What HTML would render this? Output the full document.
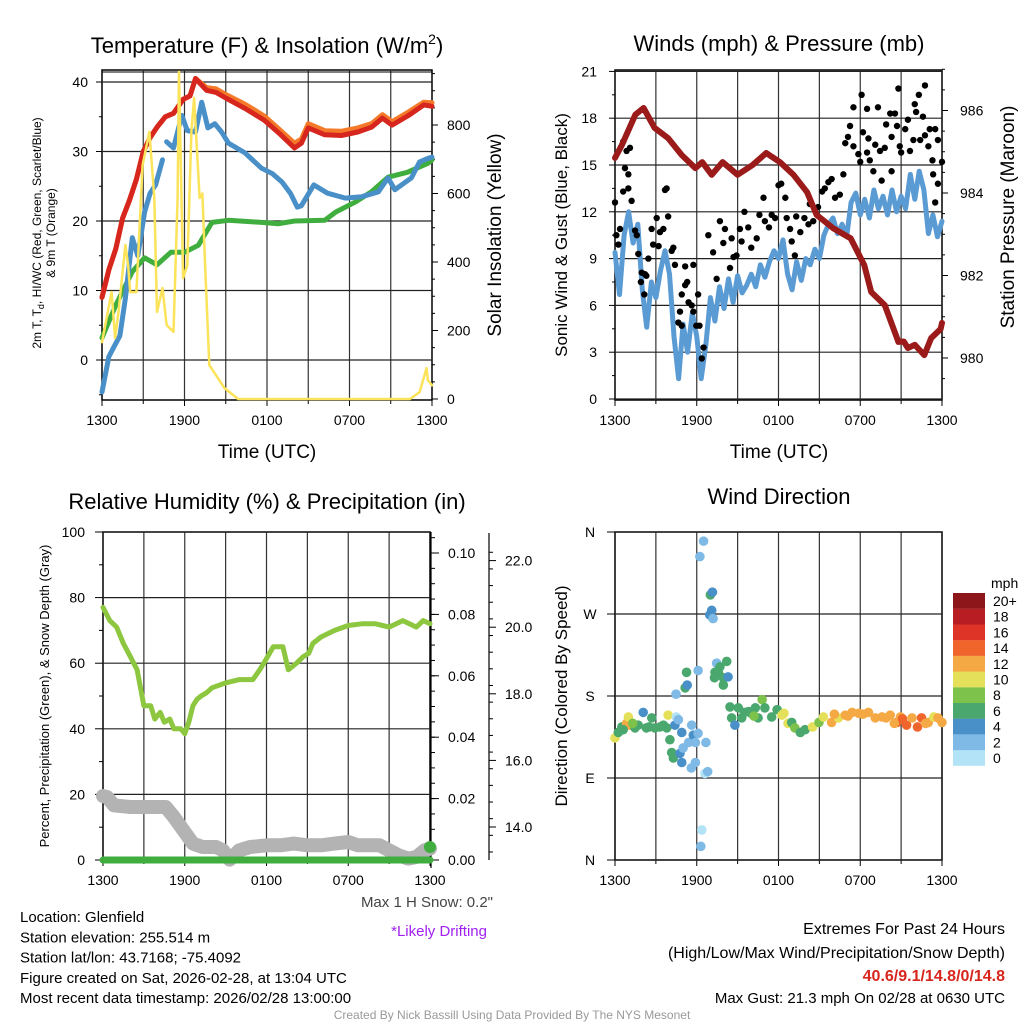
<!DOCTYPE html>
<html><head><meta charset="utf-8"><style>
html,body{margin:0;padding:0;background:#fff;}
svg{display:block;font-family:"Liberation Sans",sans-serif;}
</style></head><body>
<svg id="c" width="1024" height="1024" viewBox="0 0 1024 1024">
<rect x="0" y="0" width="1024" height="1024" fill="#fff"/>
</svg>
<script>
// ---------- DATA ----------
const hourTicks = ["1300","1900","0100","0700","1300"];
// Temperature panel
const tempHours = [0,0.5,1,1.5,2,2.5,3,3.5,4,4.6,5.2,5.9,6.4,6.8,7.6,8.3,9,10.4,11.8,13,14,14.5,15,16.2,17.4,18.6,19.6,20.4,21.1,22.3,23.4,24];
const tempVals  = [9,13,16,20.4,23,26,30,32,33.5,35,35.5,37.5,38,40.5,38.8,38.5,37.7,36.2,34.5,32.4,30.5,31.2,33.4,32.4,32.3,32.8,33.5,34.8,33.8,35.2,36.7,36.5];
const temp9Vals = [9,13,16,20.4,23,26,30,32,33.5,35,35.5,37.5,38,40.5,39.2,39,38.2,36.8,35.1,33,31.2,31.8,34,33,32.9,33.4,34,35.3,34.3,35.7,37.1,37];
const wcHours = [0,0.5,0.95,1.3,1.7,2.2,2.6,3.1,3.5,3.9,4.4,4.45,4.7,5.2,5.8,6.2,6.8,7.25,7.7,8.2,8.7,9.2,10.4,11.6,12.4,13.1,13.7,14.2,14.5,15.4,16.4,17.7,18.9,20.1,20.8,21.3,22.5,23.1,23.7,24];
const wcVals  = [-4.6,0.5,2.2,3.5,8.9,17.6,15,21.3,24,25.2,28.8,null,31.4,30.5,35.2,33,32.8,37.1,33.4,34,32.8,31.2,29.8,27.6,26.8,25.6,24,22,22.2,25.2,24,23.3,23.5,24.2,26.2,24.5,26.2,28.5,29,29.2];
const dewHours = [0,1,2.2,3.1,4,5,6,7,8,9.2,11.6,12.8,14,16.2,17,18.4,19.6,20.8,22.2,23.7,24];
const dewVals  = [3.2,7.9,12.7,14.7,13.7,15.5,15.5,16.5,19.8,20.1,19.8,19.6,20,20.1,21.3,22.7,24.2,26.3,27,28.3,28.8];
const solHours = [0,0.7,0.95,1.2,1.7,1.9,2.05,2.5,2.95,3.45,3.8,4.0,4.4,4.7,5.2,5.5,5.6,5.9,6.2,6.5,6.7,7.1,7.3,7.5,7.8,8.9,9.9,22.4,23.1,23.6,23.7,24];
const solVals  = [166,312,178,254,450,391,312,312,683,780,587,254,324,216,196,587,955,353,391,780,879,587,600,391,99,32,0,0,20,90,55,40];
// Winds panel
const windHours = [0,0.33,0.67,1,1.33,1.67,2,2.33,2.67,3,3.33,3.67,4,4.33,4.67,5,5.33,5.67,6,6.33,6.67,7,7.33,7.67,8,8.33,8.67,9,9.33,9.67,10,10.33,10.67,11,11.33,11.67,12,12.33,12.67,13,13.33,13.67,14,14.33,14.67,15,15.33,15.67,16,16.33,16.67,17,17.33,17.67,18,18.33,18.67,19,19.33,19.67,20,20.33,20.67,21,21.33,21.67,22,22.33,22.67,23,23.33,23.67,24];
const windVals  = [9.4,6.7,10.5,12,10,11.2,7,4.6,7.5,6.5,8.2,9.5,8,4,1.3,4.8,3,5.5,4,1.3,3.5,6.5,5,7.2,5.8,7.7,6.2,7.9,6.8,7.3,8,7.2,8.6,7.8,8.8,9.5,9,10.2,8,7,8.8,7.6,9,8.6,9.6,9,10.5,11.2,11.6,10.6,11.2,10.4,12.6,13.2,11.8,12.8,11.6,13.4,12.2,13,11.8,13.4,12,13,12.2,14.4,12.8,14.6,13.4,10.6,11.8,10.4,11.4];
const gustHours = [0,0.1,0.37,0.6,0.85,1.1,0.73,0.98,1.22,0.6,0.98,0.25,1.47,1.6,1.71,1.96,2.2,2.3,1.9,2.15,2.45,2.69,2.8,3.06,3.3,3.55,3.67,3.79,3.9,3.2,4.16,4.28,4.4,5.15,5.75,5.15,5.3,4.9,5.4,4.77,5.63,4.65,4.9,5.75,6.1,5.97,6.2,6.5,6.37,6.85,7.2,7.46,7.7,7.95,8.07,8.56,8.44,8.7,8.92,9.17,9.29,9.5,9.78,10,10.4,10.6,10.9,11,11.3,11.5,11.75,12,12.2,12.5,12.6,12.85,12.97,13.2,13.3,13.6,13.9,14.2,14.3,14.55,14.9,15.2,15.4,15.66,15.9,16.15,16.5,16.76,16.9,17.1,17.25,17.5,17.5,17.86,18,18.2,18.1,18.5,18.6,18.5,18.7,18.96,19.1,19.3,19.45,19.57,19.8,19.9,20.2,20.3,20.55,20.7,20.3,20.8,20.9,21,21.3,21.5,21.65,21.9,22,22.1,22.3,22.6,22.4,22.75,23,23.1,23.5,23.3,23.7,22.75,23.35,23.7,23.5,24];
const gustVals  = [12.6,10.5,10.9,16.5,15.9,16.1,14.8,14.4,12.7,13.3,13.5,9.9,10.8,10.5,9.3,8.1,8,7.9,7.5,6.7,9,10.9,9.9,11.6,10.7,10.9,13.4,13.5,11.7,9.8,9.5,9.7,8.6,8.5,8.6,7.3,7.5,6.7,6.2,5.6,6,4.9,4.7,5.6,6.7,4.7,4.7,3.3,2.6,10.5,9.4,7.7,11.4,10,10.9,10.3,8.4,9.1,9.2,10.9,10.1,12,11,9.7,10.3,11.8,12.9,11.4,11,11.8,11.6,13.7,13.8,12.9,11.6,10.9,10.1,9.2,11.7,10.7,11.6,11.2,12.5,11.4,12.3,13.3,13.5,13.9,14.1,12.9,13.1,14.4,16.4,16.8,17.5,18.7,16.2,15.7,15.2,17.1,19.5,18.6,16.7,15.8,15.3,14.6,16.3,18.7,15.9,14,16.1,17.6,18.3,16.8,18.3,17.5,14.6,19.9,16.2,15.8,17.3,17.9,15.9,16.6,18.9,18.4,19.5,18.1,16.6,16.9,16.2,17.3,17.3,15.3,16.6,20.1,14.4,13.8,12.6,15.2];
const presHours = [0,0.5,1.5,2.1,2.9,3.9,4.9,5.9,6.4,7.1,7.9,9,10.1,11.1,12.1,13.1,14.1,14.8,16,17.3,18.3,18.8,19.8,20.8,21.2,21.5,22,22.7,23.2,23.9,24];
const presVals  = [984.85,985.16,985.9,986.06,985.58,985.33,984.92,984.6,984.75,984.44,984.75,984.44,984.68,984.97,984.75,984.44,984.02,983.47,983.15,982.9,982.25,981.6,981.28,980.39,980.4,980.24,980.32,980.07,980.48,980.7,980.85];
// RH panel
const rhHours = [0,0.5,1,1.5,2,2.5,3,3.5,3.8,4.2,4.5,4.9,5.2,5.7,6,6.3,6.6,6.9,7.2,7.6,8,9,10,11,11.5,11.8,12.5,13.2,13.6,14.2,14.7,15.1,15.4,16,17,18,19,20,21,22,23,23.5,24];
const rhVals  = [77,73,71,66,62,58,47,47,43,45,42,43,40,40,38.5,42,47,49,50,51,52.5,54,55,55,58,60,65,65,58,60,62,63,66,68,70,71.5,72,72,71,73,71,73,72];
const snowHours = [0,0.3,0.8,2,3,4,4.6,5.2,5.9,6.6,7.3,8.3,8.8,9.3,10,10.8,12,13,14,15,16,17,18,18.7,19.5,20.3,21,21.7,22.4,23,23.6,24];
const snowVals  = [14.93,14.9,14.65,14.6,14.6,14.6,14.6,14.3,13.9,13.5,13.4,13.4,13.3,13.02,13.3,13.4,13.45,13.45,13.5,13.45,13.45,13.5,13.55,13.45,13.45,13.45,13.3,13.15,13.05,13.1,13.3,13.35];
const precipHours = [0,24];
const precipVals  = [0,0];
// Wind direction panel
const dirHours = [0,0.24,0.5,0.85,1.1,0.98,1.47,1.7,2.07,2.3,2.7,2.93,3.3,3.55,3.8,3.9,4.03,4.16,4.28,4.4,4.5,4.65,4.48,4.77,4.9,4.9,5,5.15,5.3,5.25,5.4,5.6,5.63,5.75,5.9,5.9,6.1,6.1,6.23,6.5,6.37,6.3,6.6,6.8,6.67,7,7.15,7.1,6.95,7.2,7.46,7.34,7.7,7.6,7.3,7.95,7.95,8.2,8.3,8.44,8.56,8.8,9.05,9.3,9.5,10,10.3,10.5,10.8,11,11.5,11.9,12.25,12.4,12.7,12.97,13.2,13.6,13.95,14.5,14.97,15.3,15.9,16.4,16.9,17.4,17.9,18.6,19.1,19.6,20.2,20.7,20.95,21.4,21.8,22.2,22.5,23,23.4,23.7,24,0.6,1.3,2.5,9.8,10.2,16.1,17.1,18.2,19.9,20.5,21.1,22.8];
const dirVals  = [134,140,146,150,148,157,145,148,162,145,156,145,146,148,145,159,132,118,112,148,157,154,182,117,107,140,123,189,192,206,129,101,148,137,129,107,139,208,333,350,33,15,95,97,129,291,294,274,269,265,216,206,212,205,200,200,192,218,201,168,156,148,167,156,162,161,167,156,176,167,157,165,159,161,150,151,145,140,143,146,151,157,151,156,159,162,161,162,156,157,159,151,157,148,156,146,156,151,157,156,151,143,150,146,163,158,160,158,160,156,150,155,150];
const dirSpeeds = [10,7,7,12,12,10,7,6,5,6,7,6,6,7,7,10,6,7,6,4,1,2,3,4,4,4,2,6,4,6,2,3,3,5,3,3,2,3,3,2,1,2,1,3,3,7,4,4,4,2,2,6,6,6,6,6,6,6,4,6,6,4,7,6,6,6,7,7,8,6,6,6,10,10,10,6,8,6,7,10,8,10,13,10,12,12,12,13,12,12,12,14,12,14,13,14,14,12,10,12,13,7,8,7,6,8,12,12,13,12,13,14,12];
const speedBinLabels = ["0","2","4","6","8","10","12","14","16","18","20+"];
const speedColors = ["#b3e3f7","#7ebae5","#4a90c8","#4aa86e","#7dc24b","#e5e05a","#f5a945","#f0652c","#dd3427","#b81d24","#8c1619"];

// ---------- HELPERS ----------
const svg = document.getElementById('c');
const NS = 'http://www.w3.org/2000/svg';
function mk(tag, attrs, parent){ const e=document.createElementNS(NS,tag); for(const k in attrs) e.setAttribute(k,attrs[k]); (parent||svg).appendChild(e); return e; }
function txt(s, x, y, size, anchor, extra){ const a=Object.assign({x:x,y:y,'font-size':size,'text-anchor':anchor||'middle',fill:'#000'},extra||{}); const e=mk('text',a); e.textContent=s; return e; }
function lin(x1,y1,x2,y2,col,w){ return mk('line',{x1:x1,y1:y1,x2:x2,y2:y2,stroke:col||'#000','stroke-width':w||1}); }
function pathFrom(xs, ys, fx, fy){ let d='',pen=false; for(let i=0;i<xs.length;i++){ if(ys[i]===null){pen=false;continue;} d+=(pen?'L':'M')+fx(xs[i]).toFixed(1)+','+fy(ys[i]).toFixed(1); pen=true;} return d; }

function panel(X0,X1,Y0,Y1,name){
  const g=mk('rect',{x:X0,y:Y0,width:X1-X0,height:Y1-Y0,fill:'none',stroke:'#000','stroke-width':1.5});
  
  
  const fx=h=>X0+(X1-X0)*h/24;
  for(let h=3;h<24;h+=3){ const l=lin(fx(h),Y0,fx(h),Y1,'#333',1.2);
    
     }
  for(let i=0;i<5;i++){ const h=i*6; lin(fx(h),Y1,fx(h),Y1+6,'#000',1);
    const t=txt(hourTicks[i],fx(h),Y1+25,14);
    
     }
  for(let h=3;h<24;h+=6) lin(fx(h),Y1,fx(h),Y1+4,'#000',1);
  return fx;
}
function hgrid(X0,X1,y,name){ const l=lin(X0,y,X1,y,'#222',1.2);
  
   }
function series(xs,ys,fx,fy,col,w,name){
  const p=mk('path',{d:pathFrom(xs,ys,fx,fy),fill:'none',stroke:col,'stroke-width':w,'stroke-linejoin':'round','stroke-linecap':'round'});
  
  
  return p;
}

// ---------- PANEL 1: Temperature ----------
{
  const X0=102,X1=432,Y0=70,Y1=400;
  const fy=t=>360-t*6.95, fyR=w=>399-w*0.3425;
  const fx=panel(X0,X1,Y0,Y1,'temp');
  for(let t=0;t<=40;t+=10){ hgrid(X0,X1,fy(t),'temp'); lin(X0-6,fy(t),X0,fy(t));
    const l=txt(String(t),X0-14,fy(t)+5,14,'end');
    
     }
  for(let t=-5;t<=40;t+=5) lin(X0-3,fy(t),X0,fy(t));
  for(let w=0;w<=800;w+=200){ lin(X1,fyR(w),X1+6,fyR(w));
    const l=txt(String(w),X1+15,fyR(w)+5,14,'start');
    
     }
  for(let w=0;w<=950;w+=50) lin(X1,fyR(w),X1+3,fyR(w));
  lin(X0,72,X1,72,'#000',1);
  series(dewHours,dewVals,fx,fy,'#3fae3f',5,'dewpoint-line');
  series(wcHours,wcVals,fx,fy,'#4a90c8',5,'windchill-line');
  series(tempHours,temp9Vals,fx,fy,'#f47a2a',5,'temp-9m-line');
  series(tempHours,tempVals,fx,fy,'#d7261e',5,'temp-2m-line');
  series(solHours,solVals,fx,fyR,'#fbe35a',2.5,'insolation-line');
  let t=mk('text',{x:267,y:53,'font-size':22,'text-anchor':'middle'});
  t.innerHTML='Temperature (F) &amp; Insolation (W/m<tspan dy="-9" font-size="14">2</tspan><tspan dy="9">)</tspan>';
  
  
  t=txt('Time (UTC)',267,458,19);  
  t=mk('text',{x:0,y:0,'font-size':12,'text-anchor':'middle',transform:'translate(41,233) rotate(-90)'});
  t.innerHTML='2m T, T<tspan dy="3" font-size="9">d</tspan><tspan dy="-3">, HI/WC (Red, Green, Scarlet/Blue)</tspan>';
  
  
  t=txt('& 9m T (Orange)',0,0,12,'middle',{transform:'translate(55,233) rotate(-90)'});
   
  t=txt('Solar Insolation (Yellow)',0,0,19,'middle',{transform:'translate(501,235) rotate(-90)'});
   
}

// ---------- PANEL 2: Winds ----------
{
  const X0=615,X1=942,Y0=70,Y1=400;
  const fy=v=>399-v*15.6, fyR=p=>358-(p-980)*41.25;
  const fx=panel(X0,X1,Y0,Y1,'wind');
  for(let v=0;v<=21;v+=3){ hgrid(X0,X1,fy(v),'wind'); lin(X0-6,fy(v),X0,fy(v));
    const l=txt(String(v),X0-18,fy(v)+5,14,'end');
      }
  for(let v=1.5;v<=21;v+=3) lin(X0-3,fy(v),X0,fy(v));
  for(let p=980;p<=986;p+=2){ lin(X1,fyR(p),X1+6,fyR(p));
    const l=txt(String(p),X1+18,fyR(p)+5,14,'start');
      }
  for(let p=979.5;p<=987;p+=0.5) lin(X1,fyR(p),X1+3,fyR(p));
  series(windHours,windVals,fx,fy,'#5a9bd4',5,'sonic-wind-line');
  for(let i=0;i<gustHours.length;i++){ const c=mk('circle',{cx:fx(gustHours[i]),cy:fy(gustVals[i]),r:3.2,fill:'#000'});
    
     }
  series(presHours,presVals,fx,fyR,'#9b1b1b',6,'pressure-line');
  let t=txt('Winds (mph) & Pressure (mb)',779,51,22);  
  t=txt('Time (UTC)',779,458,19);  
  t=txt('Sonic Wind & Gust (Blue, Black)',0,0,17,'middle',{transform:'translate(567,235) rotate(-90)'});
   
  t=txt('Station Pressure (Maroon)',0,0,19,'middle',{transform:'translate(1014,217) rotate(-90)'});
   
}

// ---------- PANEL 3: RH ----------
{
  const X0=103,X1=430,Y0=532,Y1=860;
  const fy=r=>860-r*3.28, fyP=p=>860-p*3070, fyS=s=>827-(s-14)*33.3;
  const fx=panel(X0,X1,Y0,Y1,'rh');
  for(let r=0;r<=100;r+=20){ hgrid(X0,X1,fy(r),'rh'); lin(X0-8,fy(r),X0,fy(r));
    const l=txt(String(r),X0-18,fy(r)+5,14,'end');
      }
  for(let r=10;r<=90;r+=20) lin(X0-4,fy(r),X0,fy(r));
  lin(431,532,431,868,'#000',1.2);
  for(let i=0;i<=5;i++){ const p=i*0.02; lin(431,fyP(p),439,fyP(p));
    const l=txt(p.toFixed(2),448,fyP(p)+5,14,'start');
      }
  for(let p=0.005;p<0.11;p+=0.005) lin(431,fyP(p),435,fyP(p));
  lin(489,533,489,860,'#000',1.2);
  for(let s=14;s<=22;s+=2){ lin(489,fyS(s),496,fyS(s));
    const l=txt(s.toFixed(1),505,fyS(s)+5,14,'start');
      }
  for(let s=13.25;s<=22.7;s+=0.5) lin(489,fyS(s),493,fyS(s));
  series(rhHours,rhVals,fx,fy,'#8dc63f',5,'rh-line');
  series(snowHours,snowVals,fx,fyS,'#b3b3b3',14,'snow-depth-line');
  series(precipHours,precipVals,fx,fyP,'#3fae3f',7,'precip-line');
  const c=mk('circle',{cx:430,cy:847,r:6,fill:'#3fae3f'});  
  let t=txt('Relative Humidity (%) & Precipitation (in)',267,509,22);  
  t=txt('Percent, Precipitation (Green), & Snow Depth (Gray)',0,0,13,'middle',{transform:'translate(49,696) rotate(-90)'});
   
  t=txt('Max 1 H Snow: 0.2"',493,907,15,'end',{fill:'#444'});  
  t=txt('*Likely Drifting',487,936,15,'end',{fill:'#a020f0'});  
}

// ---------- PANEL 4: Wind Direction ----------
{
  const X0=615,X1=942,Y0=532,Y1=860;
  const fy=d=>860-d*0.9111;
  const fx=panel(X0,X1,Y0,Y1,'dir');
  const dl=['N','E','S','W','N'];
  for(let i=0;i<5;i++){ const d=i*90; hgrid(X0,X1,fy(d),'dir'); lin(X0-8,fy(d),X0,fy(d));
    const l=txt(dl[i],590,fy(d)+5,14,'middle');
      }
  for(let i=0;i<dirHours.length;i++){ const b=Math.min(10,Math.floor(dirSpeeds[i]/2));
    const c=mk('circle',{cx:fx(dirHours[i]),cy:fy(dirVals[i]),r:4.8,fill:speedColors[b]});
    
     }
  for(let i=0;i<11;i++){ const y=593+(10-i)*15.7;
    const r=mk('rect',{x:953,y:y,width:32,height:15.8,fill:speedColors[i]});
    
    
    const l=txt(speedBinLabels[i],993,y+13,14,'start');
    
     }
  let t=txt('mph',991,588,14,'start');  
  t=txt('Wind Direction',779,504,22);  
  t=txt('Direction (Colored By Speed)',0,0,17,'middle',{transform:'translate(567,696) rotate(-90)'});
   
}

// ---------- Footer text ----------
{
  const lines=['Location: Glenfield','Station elevation: 255.514 m','Station lat/lon: 43.7168; -75.4092','Figure created on Sat, 2026-02-28, at 13:04 UTC','Most recent data timestamp: 2026/02/28 13:00:00'];
  for(let i=0;i<lines.length;i++){ const t=txt(lines[i],20,922+i*20.3,15,'start');
      }
  let t=txt('Extremes For Past 24 Hours',1005,934,16,'end');  
  t=txt('(High/Low/Max Wind/Precipitation/Snow Depth)',1005,958,16,'end');  
  t=txt('40.6/9.1/14.8/0/14.8',1005,981,16,'end',{fill:'#d7261e','font-weight':'bold'});  
  t=txt('Max Gust: 21.3 mph On 02/28 at 0630 UTC',1005,1003,15,'end');  
  t=txt('Created By Nick Bassill Using Data Provided By The NYS Mesonet',512,1019,12,'middle',{fill:'#999'});  
}
</script>
</body></html>
